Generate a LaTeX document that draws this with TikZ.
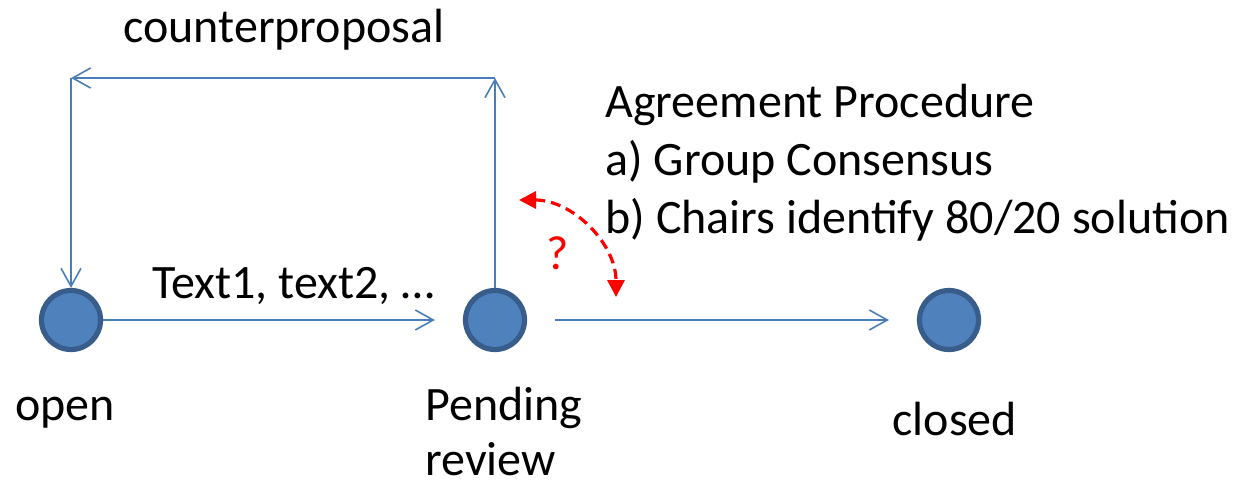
\documentclass[tikz,border=0pt]{standalone}
\usepackage{fontspec}
\setmainfont{Carlito}
\usetikzlibrary{arrows.meta}
\definecolor{conn}{HTML}{4A7EBB}
\definecolor{stfill}{HTML}{4F81BD}
\definecolor{stline}{HTML}{385D8A}
\tikzset{
  state/.style={circle, fill=stfill, draw=stline, line width=2.6pt, minimum size=29.5pt, inner sep=0pt},
  conarrow/.style={draw=conn, line width=0.8pt, -{Straight Barb[length=9pt,width=10pt,line width=0.8pt]}},
  lbl/.style={anchor=base west, inner sep=0pt, font=\fontsize{24pt}{29pt}\selectfont},
  qarrow/.style={draw=red, line width=1.6pt, dash pattern=on 5pt off 3pt, {Triangle[length=8.5pt,width=8.5pt]}-{Triangle[length=8.5pt,width=8.5pt]}}
}
\begin{document}
\begin{tikzpicture}[x=0.5pt,y=-0.5pt]
\useasboundingbox (0,0) rectangle (1236,482);
% states
\node[state] (open) at (71,320) {};
\node[state] (pend) at (495,320) {};
\node[state] (closed) at (949,320) {};
% corner points
\coordinate (tr) at (495,78);
\coordinate (tl) at (71,78);
\coordinate (pstart) at (555,320);
% connectors
\draw[conarrow] (open.east) -- ([xshift=-14]pend.west);
\draw[conarrow] (pend.north) -- (tr);
\draw[conarrow] (tr) -- (tl);
\draw[conarrow] (tl) -- (open.north);
\draw[conarrow] (pstart) -- ([xshift=-14]closed.west);
% red dashed arc
\coordinate (qa) at (519,200);
\draw[qarrow] (qa) arc[start angle=-90, end angle=0, radius=97];
\node[lbl, text=red] (q) at (546,269) {?};
% labels
\node[lbl] (cp) at (123,42) {counterproposal};
\node[lbl] (t12) at (152,298) {Text1, text2, …};
\node[lbl] (l1) at (605,117) {Agreement Procedure};
\node[lbl] (l2) at (605,175) {a) Group Consensus};
\node[lbl] (l3) at (605,233) {b) Chairs identify 80/20 solution};
\node[lbl] (lopen) at (15,420) {open};
\node[lbl] (lpend) at (425,420) {Pending};
\node[lbl, text depth=0pt] (lrev) at (425,475) {review};
\node[lbl] (lclosed) at (892,435) {closed};
\end{tikzpicture}
\end{document}
